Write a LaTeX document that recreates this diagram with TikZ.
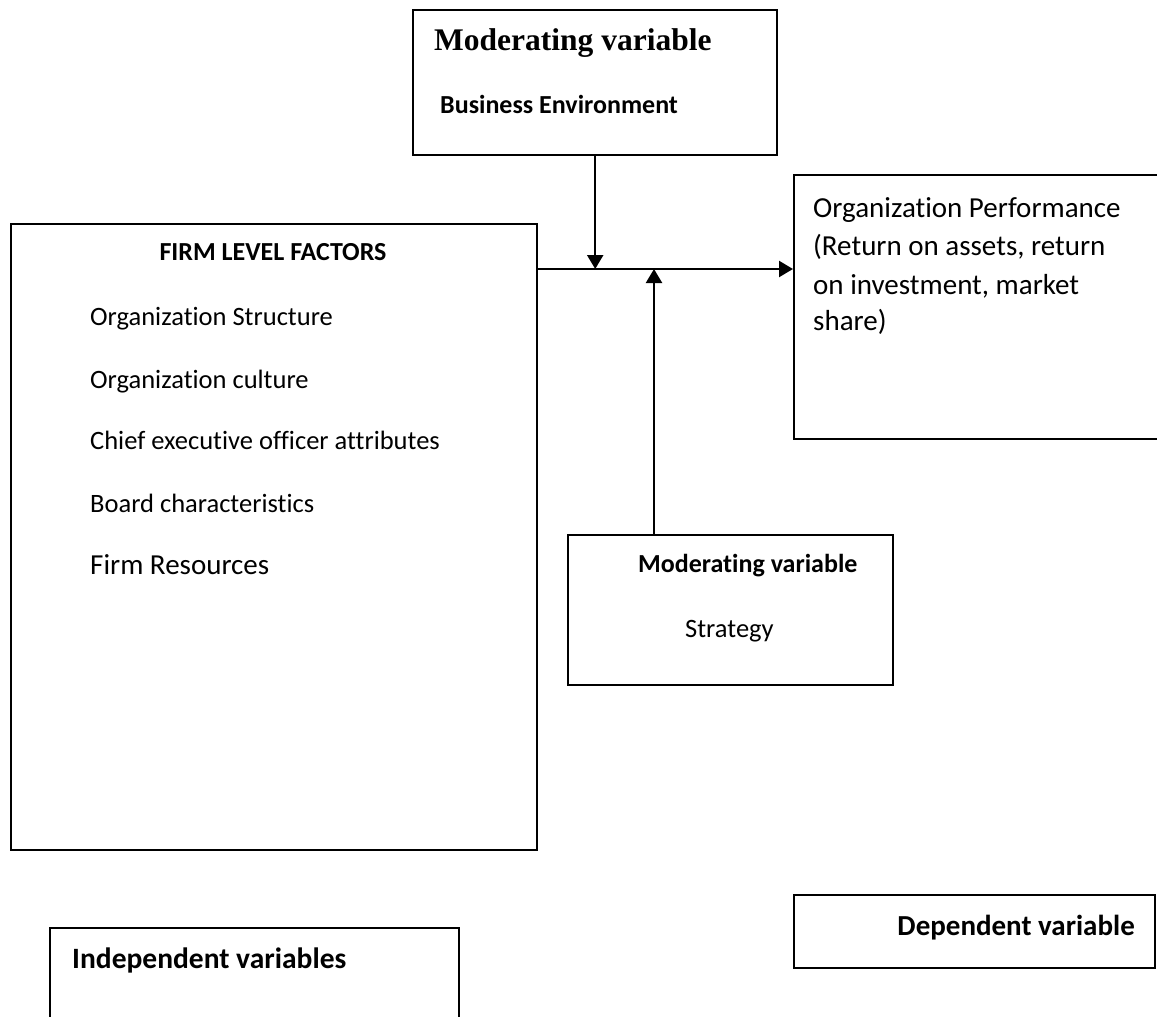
\documentclass[tikz,border=0pt]{standalone}
\usepackage{fontspec}
\setmainfont{Carlito}[Ligatures={NoCommon}]
\newfontfamily\timesf{Liberation Serif}
\usetikzlibrary{arrows.meta,calc}
\begin{document}
\begin{tikzpicture}[x=1pt,y=-1pt,
  box/.style={draw=black, line width=2.4pt, rectangle, inner sep=0pt, anchor=north west},
  lbl/.style={inner sep=0pt, anchor=base west},
  arr/.style={line width=2.2pt, -{Triangle[length=14pt,width=16pt]}},
  item/.style={lbl, font=\fontsize{26.5}{31}\selectfont},
  perftxt/.style={lbl, font=\fontsize{29}{34}\selectfont},
  head/.style={lbl, font=\bfseries\fontsize{26}{31}\selectfont},
  bighead/.style={lbl, font=\bfseries\fontsize{29.5}{34}\selectfont},
  ]
\useasboundingbox (0,0) rectangle (1157,1017);
\clip (0,0) rectangle (1157,1017);
\fill[white] (0,0) rectangle (1157,1017);

% boxes
\node[box, minimum width=364pt, minimum height=145pt] (envbox) at (412,9) {};
\node[box, minimum width=526pt, minimum height=626pt] (firm) at (10,223) {};
\node[box, minimum width=420pt, minimum height=264pt] (perf) at (793,174) {};
\node[box, minimum width=325pt, minimum height=150pt] (strat) at (567,534) {};
\node[box, minimum width=361pt, minimum height=73pt] (dep) at (793,894) {};
\node[box, minimum width=409pt, minimum height=140pt] (indep) at (49,927) {};

% top box texts
\node[lbl, font=\timesf\bfseries\fontsize{31.5}{36}\selectfont] (envtitle) at (434,50) {Moderating variable};
\node[head] (envname) at (440,113) {Business Environment};

% firm box texts
\node[inner sep=0pt, anchor=base, font=\bfseries\fontsize{26}{31}\selectfont] (firmtitle) at (273,260) {FIRM LEVEL FACTORS};
\node[item] (f1) at (90,325) {Organization Structure};
\node[item] (f2) at (90,388) {Organization culture};
\node[item] (f3) at (90,449) {Chief executive officer attributes};
\node[item] (f4) at (90,512) {Board characteristics};
\node[lbl, font=\fontsize{29}{34}\selectfont] (f5) at (90,574) {Firm Resources};

% performance box texts
\node[perftxt] (p1) at (813,217) {Organization Performance};
\node[perftxt] (p2) at (813,255) {(Return on assets, return};
\node[perftxt] (p3) at (813,294) {on investment, market};
\node[perftxt] (p4) at (813,330) {share)};

% strategy box texts
\node[head] (strattitle) at (638,572) {Moderating variable};
\node[item] (stratname) at (685,637) {Strategy};

% legend boxes
\node[inner sep=0pt, anchor=base east, font=\bfseries\fontsize{29}{34}\selectfont] (deptxt) at (1135,935) {Dependent variable};
\node[bighead] (indeptxt) at (72,968) {Independent variables};

% connectors
\coordinate (jL) at ($(firm.north east)+(0,46)$);
\coordinate (jR) at (perf.west |- jL);
\draw[arr] (jL) -- (jR);
\draw[arr] (envbox.south) -- (envbox.south |- jL);
\coordinate (sUp) at ($(strat.north west)+(87,0)$);
\draw[arr] (sUp) -- (sUp |- jL);
\end{tikzpicture}
\end{document}
